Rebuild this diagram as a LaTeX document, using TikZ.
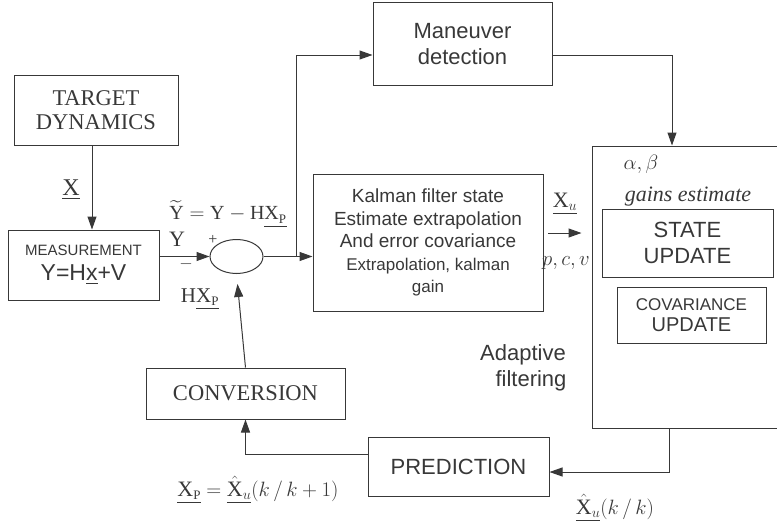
\documentclass[tikz,border=0pt]{standalone}
\usepackage{fontspec}
\setmainfont{Liberation Serif}
\setsansfont{Liberation Sans}
\usepackage{amsmath}
\usepackage{tikz}
\usetikzlibrary{positioning,arrows.meta,shapes.geometric,calc}
\definecolor{ink}{gray}{0.22}

\tikzset{
  blk/.style={draw=ink, line width=1pt, inner sep=0pt, align=center, text=ink},
  conn/.style={draw=ink, line width=1pt},
  arr/.style={conn, -{Triangle[length=13pt,width=9pt]}},
  lbl/.style={text=ink, inner sep=0pt, align=center}
}
\newcommand{\fs}[1]{\fontsize{#1}{1.18\dimexpr #1pt\relax}\selectfont}

\begin{document}
\begin{tikzpicture}[x=1pt,y=-1pt]
\useasboundingbox (0,0) rectangle (777,520);

% Blocks
\node[blk, minimum width=164, minimum height=70, font=\fs{22.5}] (target) at (96,110) {TARGET\\[-2pt]DYNAMICS};
\node[blk, minimum width=151, minimum height=70, font=\sffamily\fs{23}] (meas) at (83.5,265) {{\fs{15}MEASUREMENT}\\[-2pt]Y=H\underline{x}+V};
\node[blk, ellipse, minimum width=53, minimum height=34] (sum) at (236.5,256.5) {};
\node[blk, minimum width=230, minimum height=137, font=\sffamily\fs{19}] (kalman) at (428,242.5)
  {Kalman filter state\\Estimate extrapolation\\And error covariance\\{\fs{17}Extrapolation, kalman}\\{\fs{17}gain}};
\node[blk, minimum width=179, minimum height=83, font=\sffamily\fs{22}] (maneuver) at (462.5,44) {Maneuver\\detection};
\node[blk, minimum width=187, minimum height=282] (adapt) at (685.5,287) {};
\node[blk, minimum width=171, minimum height=68, font=\sffamily\fs{22}] (stateup) at (687.5,243) {STATE\\UPDATE};
\node[blk, minimum width=149, minimum height=56, font=\sffamily\fs{20}] (covup) at (691.5,315) {{\fs{17}COVARIANCE}\\[-3pt]UPDATE};
\node[blk, minimum width=199, minimum height=51, font=\fs{22.5}] (conv) at (245.5,393.5) {CONVERSION};
\node[blk, minimum width=181, minimum height=59, font=\sffamily\fs{22}] (pred) at (458.5,466.5) {PREDICTION};

% Connectors
\coordinate (br) at (296,256.5);
\coordinate (xu) at (548,233);
\draw[arr] ([xshift=-4pt]target.south) -- ([xshift=-4pt]target.south |- meas.north);
\draw[arr] (sum.west -| meas.east) -- (sum.west);
\draw[arr] (sum.east) -- (sum.east -| kalman.west);
\draw[arr] (br) |- ([yshift=-11pt]maneuver.west);
\draw[arr] ([yshift=-11pt]maneuver.east) -| ([xshift=-13.5pt]adapt.north);
\draw[arr, shorten >=10pt] (xu) -- (xu -| adapt.west);
\draw[arr] ([xshift=-16.5pt]adapt.south) |- ([yshift=-5.5pt]pred.east);
\draw[arr] ([yshift=12.5pt]pred.west) -| (conv.south);
\draw[arr, shorten >=10pt] (conv.north) -- (sum.south);

% Labels
\node[lbl, font=\fs{24}] (lx) at (71,190) {\underline{X}};
\node[lbl, font=\fs{20}] (ltilde) at (228,214) {$\widetilde{\textrm{Y}} = \textrm{Y} - \textrm{H}\underline{\textrm{X}_{\textrm{\fs{13}P}}}$};
\node[lbl, font=\fs{22}] (ly) at (177,239) {Y};
\node[lbl, font=\fs{16}] (lplus) at (213,240) {+};
\node[lbl, font=\fs{16}] (lminus) at (186,264) {$-$};
\node[lbl, font=\fs{21}] (lhxp) at (200,299) {H\underline{X$_{\textrm{\fs{13}P}}$}};
\node[lbl, font=\fs{22}] (lxu) at (565,204) {\underline{X$_u$}};
\node[lbl, font=\fs{22}] (lpcv) at (566,263) {$p,c,v$};
\node[lbl, font=\fs{22}] (lab) at (641,164) {$\alpha,\beta$};
\node[lbl, font=\fs{22}\itshape] (lgain) at (688,197) {gains estimate};
\node[lbl, font=\sffamily\fs{22}] (ladapt) at (523,368) {Adaptive\\\hspace*{16pt}filtering};
\node[lbl, font=\fs{22}] (lxp) at (258,490) {\underline{X$_{\textrm{\fs{13}P}}$} $=$ \underline{$\hat{\textrm{X}}_u$}$(k\,/\,k+1)$};
\node[lbl, font=\fs{22}] (lxk) at (615,508) {\underline{$\hat{\textrm{X}}_u$}$(k\,/\,k)$};
\end{tikzpicture}
\end{document}
